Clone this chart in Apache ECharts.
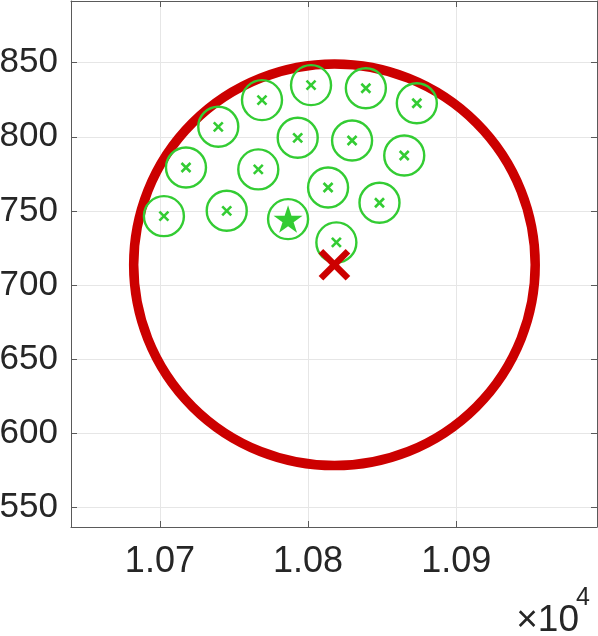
<!DOCTYPE html>
<html>
<head>
<meta charset="utf-8">
<script src="https://cdn.jsdelivr.net/npm/echarts@6/dist/echarts.min.js"></script>
<style>
html,body{margin:0;padding:0;background:#fff;}
#main{width:598px;height:636px;}
</style>
</head>
<body>
<div id="main"></div>
<script>
// ---- data ----
const pointsX = [10702.7, 10717.6, 10739.4, 10768.9, 10745.1, 10766.4, 10802.0, 10839.0, 10873.4, 10793.0, 10829.7, 10864.9, 10813.5, 10848.2, 10819.1];
const pointsY = [746.5, 779.3, 806.7, 824.7, 750.1, 778.0, 834.8, 832.7, 822.6, 799.3, 797.5, 787.4, 765.8, 755.5, 728.8];
const starPoint = [10786.5, 744.5];
const centrePoint = [10817.8, 713.7];
const ringRadius = 135.5;
const xTicks = [10700, 10800, 10900];
const yTicks = [550, 600, 650, 700, 750, 800, 850];
const xRange = [10640, 10995];
const yRange = [537, 891.5];

const GREEN = '#33cc33';
const RED = '#cc0000';
const TXT = '#262626';
const AX = '#5a5a5a';
const FONT = '"Liberation Sans", Arial, sans-serif';

const pts = pointsX.map((x, i) => [x, pointsY[i]]);
const circlePts = pts.concat([starPoint]);

const chart = echarts.init(document.getElementById('main'), null, {renderer: 'canvas'});

function baseAxis(pos, showLabel, isX) {
  const step = isX ? 100 : 50;
  return {
    type: 'value',
    position: pos,
    min: isX ? xRange[0] : yRange[0],
    max: isX ? xRange[1] : yRange[1],
    minInterval: step,
    maxInterval: step,
    splitNumber: isX ? 3 : 7,
    axisLine: {show: true, onZero: false, lineStyle: {color: AX, width: 1}},
    axisTick: {show: true, inside: true, length: 6, lineStyle: {color: AX, width: 1}},
    splitLine: {show: showLabel, lineStyle: {color: '#e6e6e6', width: 1}},
    axisLabel: {
      show: showLabel,
      showMinLabel: false,
      showMaxLabel: false,
      color: TXT,
      fontFamily: FONT,
      fontSize: isX ? 36 : 35,
      margin: isX ? 35 : 13,
      verticalAlign: 'middle',
      formatter: isX ? (v => (v / 10000).toFixed(2)) : (v => String(v))
    }
  };
}

const option = {
  animation: false,
  backgroundColor: '#fff',
  grid: {left: 71, top: 1, right: 1, bottom: 109, containLabel: false, outerBoundsMode: 'none'},
  xAxis: [baseAxis('bottom', true, true), baseAxis('top', false, true)],
  yAxis: [baseAxis('left', true, false), baseAxis('right', false, false)],
  series: [
    {
      type: 'custom',
      name: 'ring',
      xAxisIndex: 0, yAxisIndex: 0,
      data: [[centrePoint[0], centrePoint[1], ringRadius]],
      renderItem: function (params, api) {
        const c = api.coord([api.value(0), api.value(1)]);
        const r = api.size([api.value(2), 0])[0];
        return {type: 'circle', shape: {cx: c[0], cy: c[1], r: r},
          style: {fill: 'none', stroke: RED, lineWidth: 9.5}};
      },
      z: 2
    },
    {
      type: 'scatter',
      name: 'circles',
      data: circlePts,
      symbol: 'circle',
      symbolSize: 40,
      itemStyle: {color: 'rgba(0,0,0,0)', borderColor: GREEN, borderWidth: 2.4, opacity: 1},
      z: 3
    },
    {
      type: 'custom',
      name: 'points',
      data: pts,
      renderItem: function (params, api) {
        const c = api.coord([api.value(0), api.value(1)]);
        const h = 4.5;
        const st = {stroke: GREEN, lineWidth: 2.6, lineCap: 'butt'};
        return {type: 'group', children: [
          {type: 'line', shape: {x1: c[0] - h, y1: c[1] - h, x2: c[0] + h, y2: c[1] + h}, style: st},
          {type: 'line', shape: {x1: c[0] - h, y1: c[1] + h, x2: c[0] + h, y2: c[1] - h}, style: st}
        ]};
      },
      z: 4
    },
    {
      type: 'scatter',
      name: 'star',
      data: [starPoint],
      symbol: 'path://M50,0 L61.2,34.5 L97.6,34.5 L68.2,55.9 L79.4,90.5 L50,69.1 L20.6,90.5 L31.8,55.9 L2.4,34.5 L38.8,34.5 Z',
      symbolSize: [29, 27.5],
      itemStyle: {color: GREEN, opacity: 1},
      z: 4
    },
    {
      type: 'custom',
      name: 'centre',
      data: [centrePoint],
      renderItem: function (params, api) {
        const c = api.coord([api.value(0), api.value(1)]);
        const h = 13.5;
        const st = {stroke: RED, lineWidth: 6.5, lineCap: 'butt'};
        return {type: 'group', children: [
          {type: 'line', shape: {x1: c[0] - h, y1: c[1] - h, x2: c[0] + h, y2: c[1] + h}, style: st},
          {type: 'line', shape: {x1: c[0] - h, y1: c[1] + h, x2: c[0] + h, y2: c[1] - h}, style: st}
        ]};
      },
      z: 5
    }
  ],
  graphic: [
    {type: 'text', x: 579, y: 621,
      style: {text: '×10', fill: TXT, font: '37px ' + FONT, textAlign: 'right', textVerticalAlign: 'middle'}},
    {type: 'text', x: 576, y: 598,
      style: {text: '4', fill: TXT, font: '25px ' + FONT, textAlign: 'left', textVerticalAlign: 'middle'}}
  ]
};
chart.setOption(option);
</script>
</body>
</html>
